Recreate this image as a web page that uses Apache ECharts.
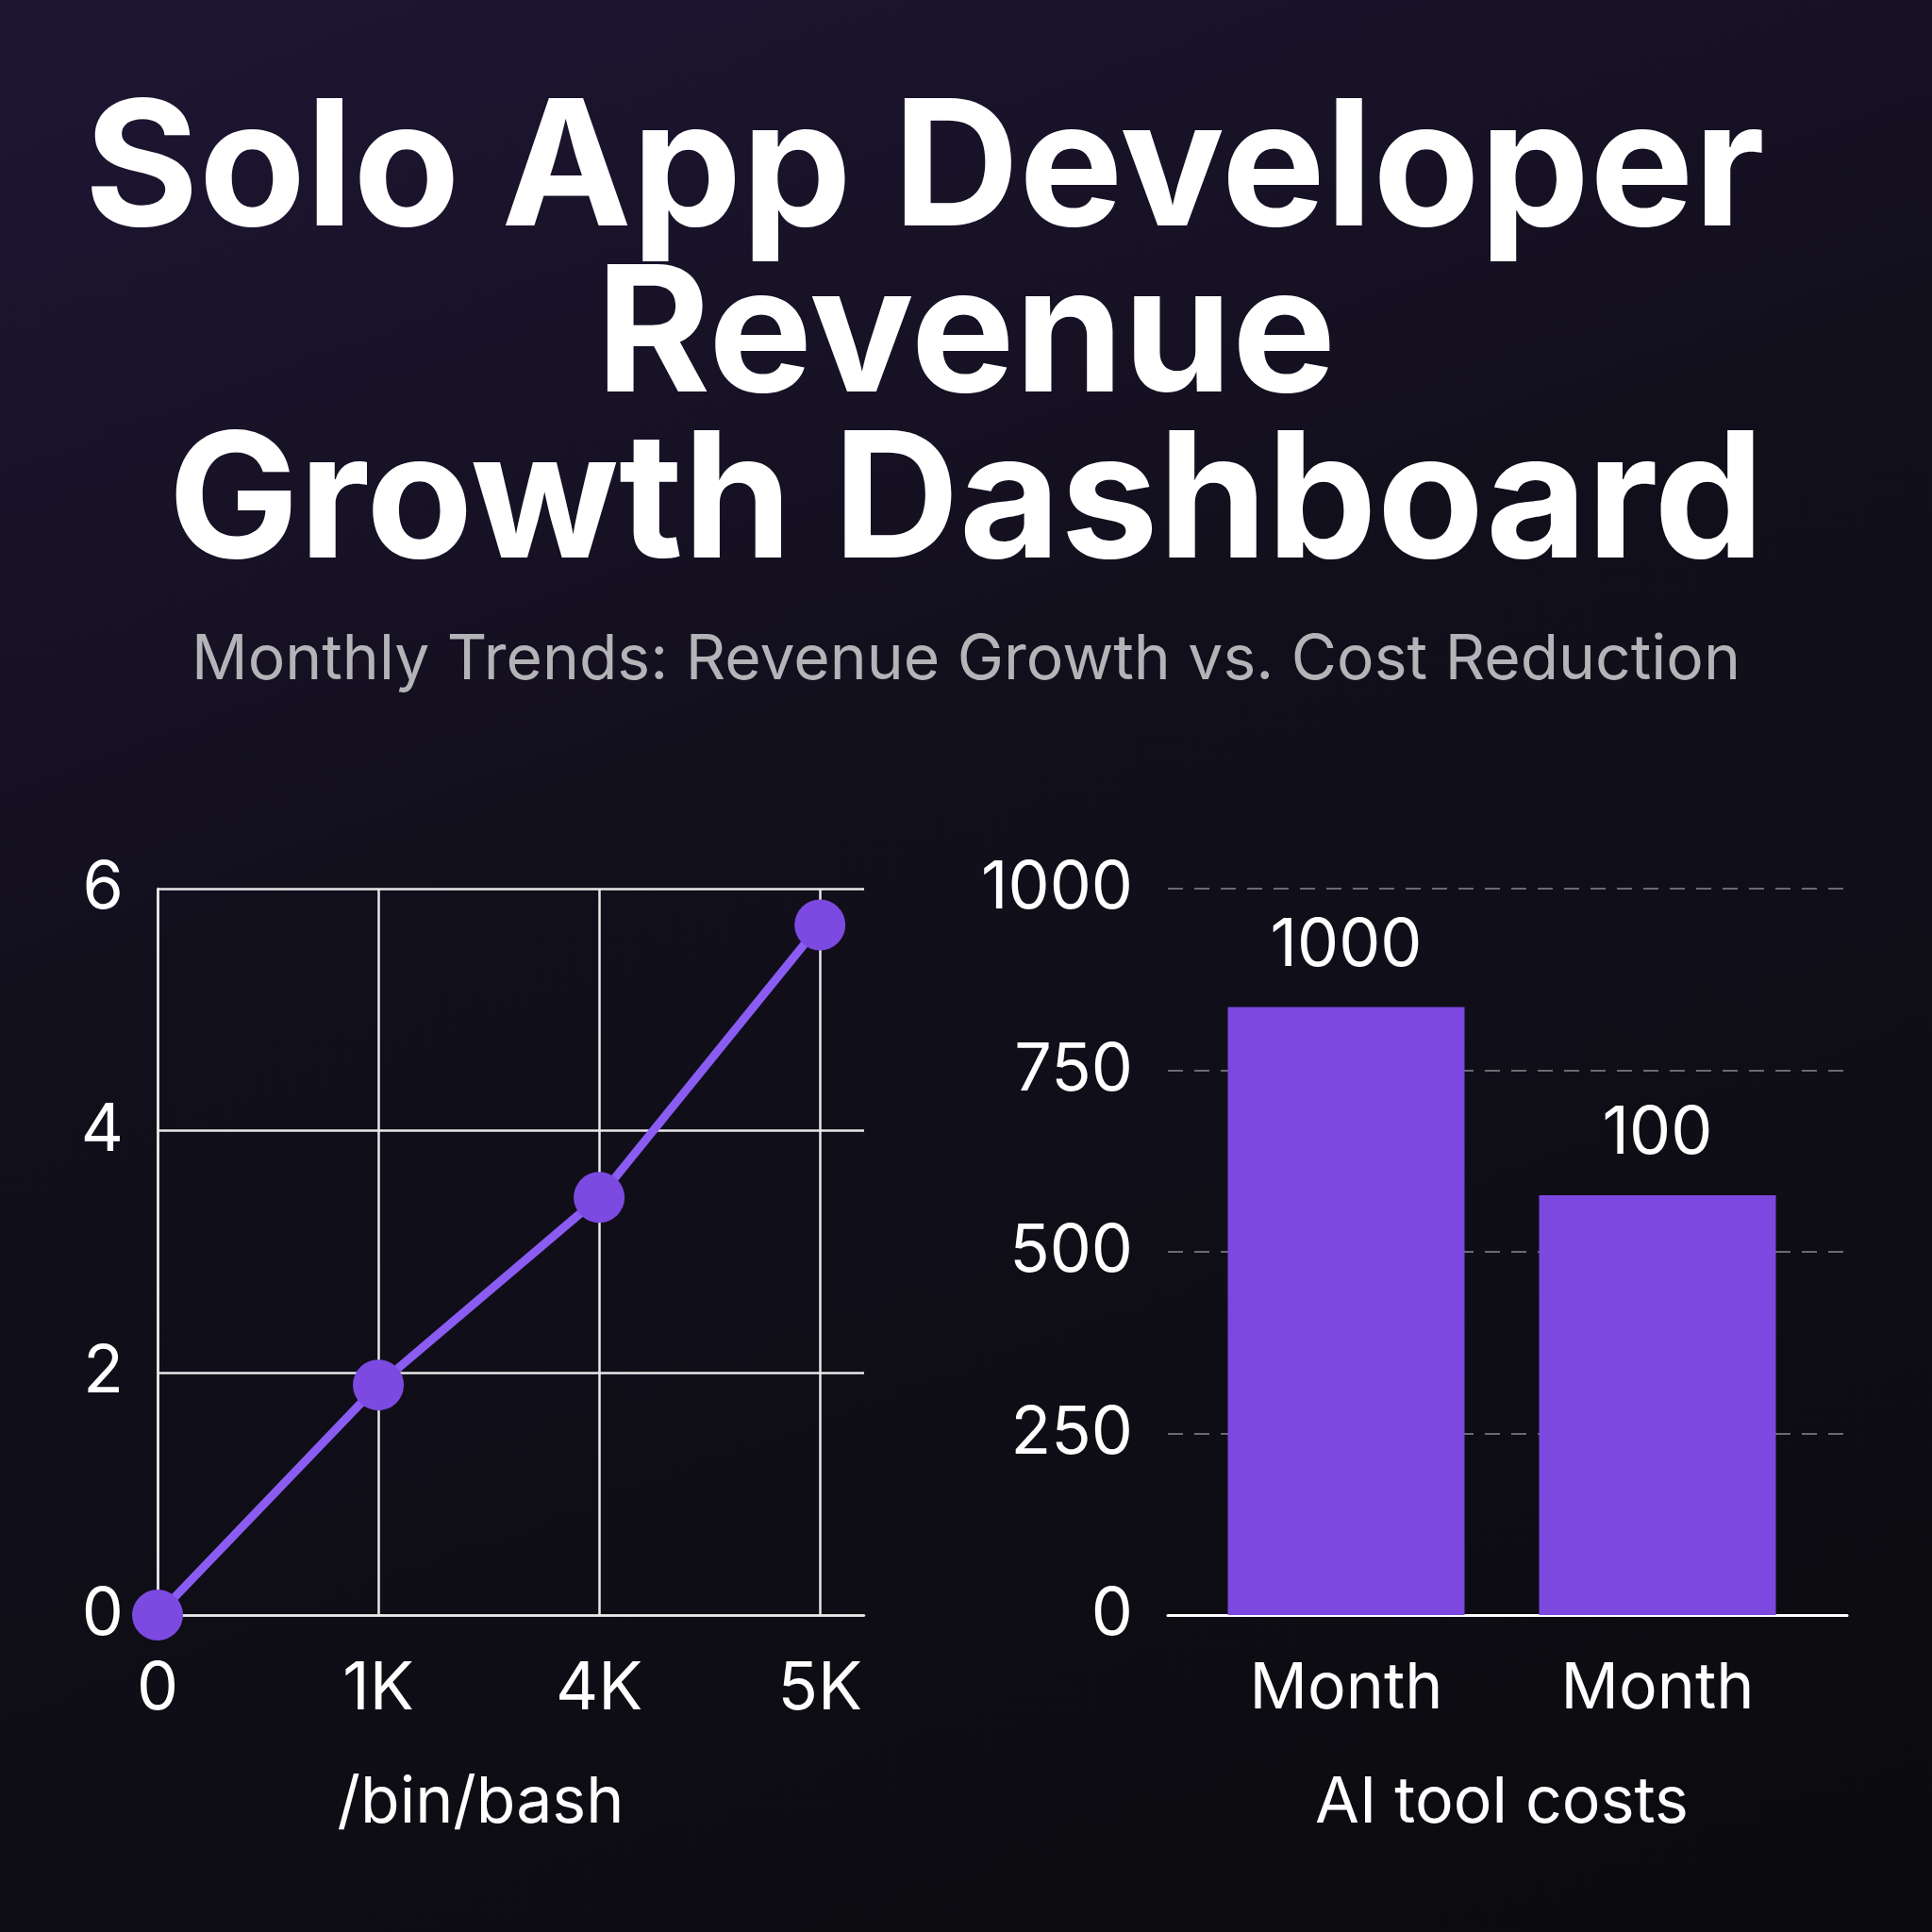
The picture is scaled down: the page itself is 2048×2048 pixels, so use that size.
<!DOCTYPE html>
<html>
<head>
<meta charset="utf-8">
<script src="https://cdn.jsdelivr.net/npm/echarts@6/dist/echarts.min.js"></script>
<style>
  html, body { margin: 0; padding: 0; }
  body {
    width: 2048px; height: 2048px;
    background: linear-gradient(160deg, #1f1634 0%, #120f1c 40%, #0b0b0e 100%);
  }
  #chart { width: 2048px; height: 2048px; }
</style>
</head>
<body>
<div id="chart"></div>
<script>
// left chart: revenue line
const lineCats = ['0', '1K', '4K', '5K'];
const lineValues = [0, 1.9, 3.45, 5.7];
// right chart: cost bars
const barCats = ['Month', 'Month'];
const barValues = [837, 578];
const barLabels = ['1000', '100'];

const font = 'Inter, "Noto Sans", sans-serif';
const purple = '#7c48df';

const chart = echarts.init(document.getElementById('chart'));

let option = {
  backgroundColor: 'transparent',
  title: [
    {
      text: 'Solo App Developer  \nRevenue\nGrowth Dashboard',
      left: 'center',
      top: 90,
      textStyle: { color: '#ffffff', fontFamily: font, fontWeight: 700, fontSize: 185, lineHeight: 176 }
    },
    {
      text: 'Monthly Trends: Revenue Growth vs. Cost Reduction',
      left: 'center',
      top: 655,
      textStyle: { color: '#b4b4b8', fontFamily: font, fontWeight: 400, fontSize: 66, lineHeight: 80 }
    }
  ],
  grid: [
    { left: 167, right: 1132, top: 942, bottom: 336 },
    // bars
    { left: 1262, right: 126, top: 942, bottom: 336 },
    // dashed guide lines + baseline
    { left: 1238, right: 90, top: 942, bottom: 336 }
  ],
  xAxis: [
    {
      gridIndex: 0,
      type: 'value',
      min: 0,
      max: 3.2,
      interval: 1,
      name: '/bin/bash',
      nameLocation: 'middle',
      nameGap: 166,
      nameTextStyle: { color: '#ffffff', fontFamily: font, fontSize: 68, padding: [0, 64, 0, 0] },
      axisLine: { show: true, lineStyle: { color: '#e8e8e8', width: 2.5 } },
      axisTick: { show: false },
      axisLabel: {
        color: '#ffffff', fontFamily: font, fontSize: 70, margin: 44,
        formatter: v => lineCats[v] !== undefined ? lineCats[v] : ''
      },
      splitLine: { show: true, lineStyle: { color: ['#e8e8e8', '#e8e8e8', '#e8e8e8', '#e8e8e8', 'transparent'], width: 2.5 } }
    },
    {
      gridIndex: 1,
      type: 'category',
      data: barCats,
      name: 'AI tool costs',
      nameLocation: 'middle',
      nameGap: 166,
      nameTextStyle: { color: '#ffffff', fontFamily: font, fontSize: 68 },
      axisLine: { show: false },
      axisTick: { show: false },
      axisLabel: { color: '#ffffff', fontFamily: font, fontSize: 68, margin: 45 }
    },
    {
      gridIndex: 2,
      type: 'category',
      data: barCats,
      axisLine: { show: true, lineStyle: { color: '#ffffff', width: 3 } },
      axisTick: { show: false },
      axisLabel: { show: false }
    }
  ],
  yAxis: [
    {
      gridIndex: 0,
      type: 'value',
      min: 0,
      max: 6,
      interval: 2,
      axisLine: { show: true, lineStyle: { color: '#e8e8e8', width: 2.5 } },
      axisTick: { show: false },
      axisLabel: { color: '#ffffff', fontFamily: font, fontSize: 70, margin: 36 },
      splitLine: { show: true, lineStyle: { color: '#e8e8e8', width: 2.5 } }
    },
    {
      gridIndex: 1,
      type: 'value',
      min: 0,
      max: 1000,
      interval: 250,
      show: false
    },
    {
      gridIndex: 2,
      type: 'value',
      min: 0,
      max: 1000,
      interval: 250,
      axisLine: { show: false },
      axisTick: { show: false },
      axisLabel: { color: '#ffffff', fontFamily: font, fontSize: 70, margin: 37, formatter: v => String(v) },
      splitLine: { show: true, lineStyle: { color: '#6a6a70', width: 2, type: [16, 12] } }
    }
  ],
  series: [
    {
      type: 'line',
      xAxisIndex: 0,
      yAxisIndex: 0,
      data: lineValues.map((v, i) => [i, v]),
      symbol: 'circle',
      symbolSize: 54,
      lineStyle: { color: '#8a5cf2', width: 9 },
      itemStyle: { color: '#7c4ae0' },
      z: 5
    },
    {
      type: 'bar',
      xAxisIndex: 1,
      yAxisIndex: 1,
      data: barValues,
      barWidth: 251,
      itemStyle: { color: purple },
      z: 5,
      label: {
        show: true,
        position: 'top',
        distance: 30,
        color: '#ffffff',
        fontFamily: font,
        fontSize: 70,
        formatter: p => barLabels[p.dataIndex]
      }
    }
  ]
};

chart.setOption(option);
</script>
</body>
</html>
